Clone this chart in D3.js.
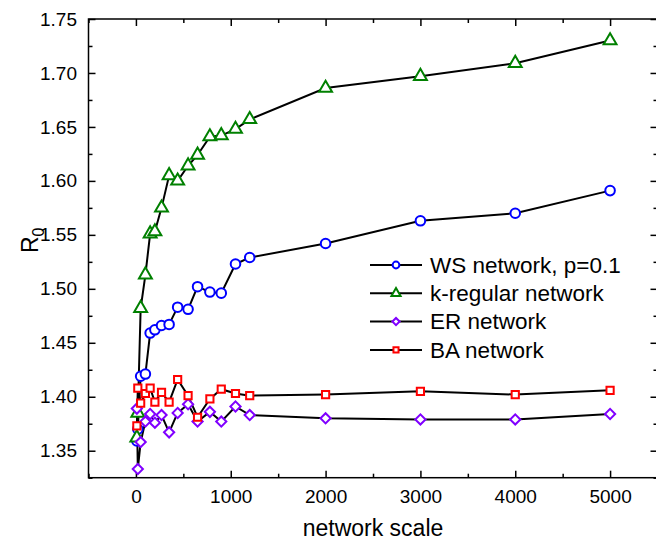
<!DOCTYPE html>
<html>
<head>
<meta charset="utf-8">
<script src="https://cdn.jsdelivr.net/npm/d3@7"></script>
<style>
  body { margin: 0; background: #fff; }
  text { font-family: "Liberation Sans", Arial, sans-serif; }
</style>
</head>
<body>
<div id="container"></div>
<script>
const width = 656; // Chart's dimensions
const height = 543;
const x0 = 88.5, x1 = 657.5; // plot frame, left and right
const y0 = 477.7, y1 = 19;   // plot frame, bottom and top

// network scale (x) for every point
const scales = [10, 20, 50, 100, 150, 200, 270, 350, 440, 550, 650, 780, 900, 1050, 1200, 2000, 3000, 4000, 5000];

// R0 values
const wsValues = [1.359, 1.37, 1.419, 1.421, 1.459, 1.462, 1.466, 1.467, 1.483, 1.481, 1.502, 1.497, 1.496, 1.523, 1.529, 1.542, 1.563, 1.570, 1.591];
const kregValues = [1.362, 1.385, 1.482, 1.513, 1.551, 1.553, 1.575, 1.605, 1.600, 1.614, 1.624, 1.641, 1.642, 1.648, 1.657, 1.686, 1.697, 1.709, 1.730];
const erValues = [1.389, 1.333, 1.358, 1.377, 1.384, 1.376, 1.383, 1.367, 1.385, 1.393, 1.377, 1.386, 1.377, 1.391, 1.383, 1.380, 1.379, 1.379, 1.384];
const baValues = [1.373, 1.408, 1.394, 1.403, 1.408, 1.395, 1.404, 1.395, 1.416, 1.401, 1.381, 1.398, 1.407, 1.403, 1.401, 1.402, 1.405, 1.402, 1.406];

const seriesNames = ["WS network, p=0.1", "k-regular network", "ER network", "BA network"];

const xTicks = [0, 1000, 2000, 3000, 4000, 5000];
const yTicks = [1.35, 1.40, 1.45, 1.50, 1.55, 1.60, 1.65, 1.70, 1.75];

const x = d3.scaleLinear().domain([-500, 5500]).range([x0, x1]);
const y = d3.scaleLinear().domain([1.325, 1.75]).range([y0, y1]);

const series = [
  { name: seriesNames[0], values: wsValues, color: "#0000ff", shape: "circle" },
  { name: seriesNames[1], values: kregValues, color: "#008000", shape: "triangle" },
  { name: seriesNames[2], values: erValues, color: "#8000ff", shape: "diamond" },
  { name: seriesNames[3], values: baValues, color: "#ff0000", shape: "square" }
];

const svg = d3.select("div#container").append("svg")
  .attr("width", width)
  .attr("height", height)
  .attr("viewBox", [0, 0, width, height]);

svg.append("rect").attr("width", width).attr("height", height).attr("fill", "#fff");

// minor tick positions sit halfway between the major ones
const xMinor = d3.range(-500, 5501, 1000);
const yMinor = d3.range(1.325, 1.751, 0.05).map(v => +v.toFixed(3));

function styleAxis(g) {
  g.selectAll(".domain").remove();
  g.selectAll("line").attr("stroke", "#000").attr("stroke-width", 1.5);
  g.selectAll("text").attr("fill", "#000").attr("font-size", 19)
    .attr("font-family", "'Liberation Sans', Arial, sans-serif");
}

// bottom axis with labels, ticks point inward
svg.append("g")
  .attr("transform", `translate(0,${y0})`)
  .call(d3.axisBottom(x).tickValues(xTicks).tickFormat(d3.format("d")).tickSize(-7).tickPadding(12))
  .call(styleAxis);
svg.append("g")
  .attr("transform", `translate(0,${y0})`)
  .call(d3.axisBottom(x).tickValues(xMinor).tickFormat("").tickSize(-4))
  .call(styleAxis);

// top axis, ticks only
svg.append("g")
  .attr("transform", `translate(0,${y1})`)
  .call(d3.axisTop(x).tickValues(xTicks).tickFormat("").tickSize(-7))
  .call(styleAxis);
svg.append("g")
  .attr("transform", `translate(0,${y1})`)
  .call(d3.axisTop(x).tickValues(xMinor).tickFormat("").tickSize(-4))
  .call(styleAxis);

// left axis with labels
svg.append("g")
  .attr("transform", `translate(${x0},0)`)
  .call(d3.axisLeft(y).tickValues(yTicks).tickFormat(d3.format(".2f")).tickSize(-7).tickPadding(11.5))
  .call(styleAxis);
svg.append("g")
  .attr("transform", `translate(${x0},0)`)
  .call(d3.axisLeft(y).tickValues(yMinor).tickFormat("").tickSize(-4))
  .call(styleAxis);

// right axis, ticks only
svg.append("g")
  .attr("transform", `translate(${x1},0)`)
  .call(d3.axisRight(y).tickValues(yTicks).tickFormat("").tickSize(-7))
  .call(styleAxis);
svg.append("g")
  .attr("transform", `translate(${x1},0)`)
  .call(d3.axisRight(y).tickValues(yMinor).tickFormat("").tickSize(-4))
  .call(styleAxis);

// frame
svg.append("rect")
  .attr("x", x0).attr("y", y1)
  .attr("width", x1 - x0).attr("height", y0 - y1)
  .attr("fill", "none").attr("stroke", "#000").attr("stroke-width", 1.5);

// axis titles
svg.append("text")
  .attr("x", (x0 + x1) / 2).attr("y", 536)
  .attr("text-anchor", "middle").attr("font-size", 23)
  .text("network scale");

const yTitle = svg.append("text")
  .attr("transform", `translate(38,${(y0 + y1) / 2 - 8}) rotate(-90)`)
  .attr("text-anchor", "middle").attr("font-size", 23);
yTitle.append("tspan").text("R");
yTitle.append("tspan").attr("font-size", 16).attr("dy", 6).text("0");

const symbolType = {
  circle: d3.symbolCircle,
  triangle: d3.symbolTriangle,
  diamond: d3.symbolSquare,
  square: d3.symbolSquare
};
const symbolSize = { circle: 72, triangle: 72, diamond: 52, square: 52 };

function drawMarker(g, s, px, py, k) {
  g.append("path")
    .attr("d", d3.symbol(symbolType[s.shape], symbolSize[s.shape] * k)())
    .attr("transform", `translate(${px},${py})` + (s.shape === "diamond" ? " rotate(45)" : ""))
    .attr("fill", "#fff")
    .attr("stroke", s.color)
    .attr("stroke-width", 2);
}

const line = d3.line().x(d => x(d[0])).y(d => y(d[1]));

// lines first, then markers on top
series.forEach(s => {
  const pts = d3.zip(scales, s.values);
  svg.append("path")
    .datum(pts)
    .attr("fill", "none")
    .attr("stroke", "#000")
    .attr("stroke-width", 2)
    .attr("d", line);
});
series.forEach(s => {
  const g = svg.append("g");
  d3.zip(scales, s.values).forEach(d => drawMarker(g, s, x(d[0]), y(d[1]), 1));
});

// legend
const legendX = 370, legendY = 265, legendStep = 28.3;
series.forEach((s, i) => {
  const ly = legendY + i * legendStep;
  const g = svg.append("g");
  g.append("line")
    .attr("x1", legendX).attr("x2", legendX + 52)
    .attr("y1", ly).attr("y2", ly)
    .attr("stroke", "#000").attr("stroke-width", 2);
  drawMarker(g, s, legendX + 26, ly, 0.5);
  g.append("text")
    .attr("x", legendX + 60).attr("y", ly)
    .attr("dy", "0.35em")
    .attr("font-size", 22.5)
    .text(s.name);
});
</script>
</body>
</html>
